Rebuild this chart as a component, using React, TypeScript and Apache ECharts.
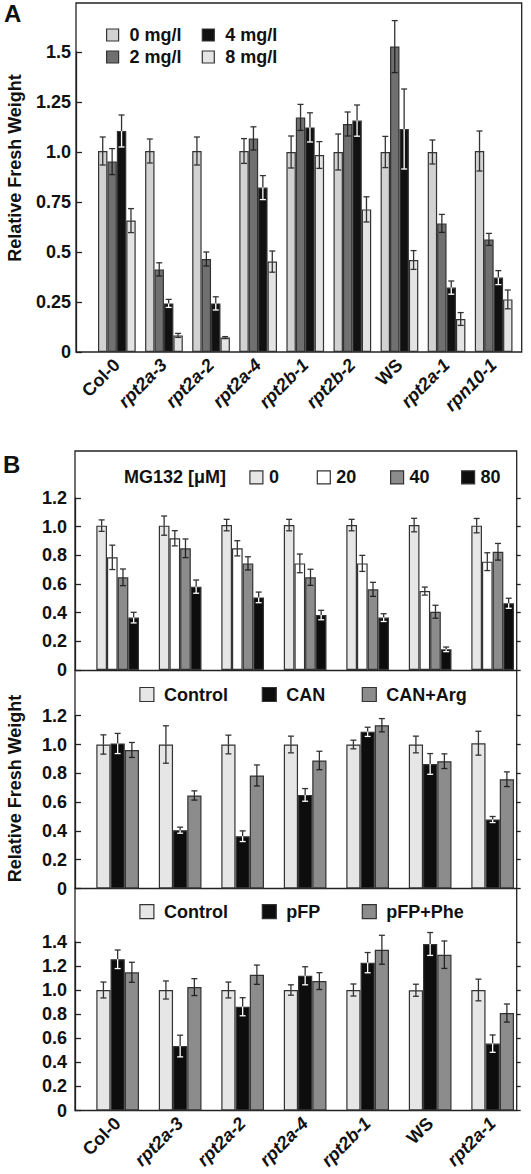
import React, { useEffect, useRef } from "react";
import * as echarts from "echarts";

// ---------- Panel A data ----------
const catsA = ["Col-0", "rpt2a-3", "rpt2a-2", "rpt2a-4", "rpt2b-1", "rpt2b-2", "WS", "rpt2a-1", "rpn10-1"];
const namesA = ["0 mg/l", "2 mg/l", "4 mg/l", "8 mg/l"];
const a0 = [1.005, 1.005, 1.005, 1.005, 1.0, 1.0, 1.0, 1.0, 1.005];
const a0Err = [0.07, 0.06, 0.07, 0.062, 0.08, 0.09, 0.078, 0.06, 0.1];
const a2 = [0.952, 0.413, 0.465, 1.068, 1.173, 1.14, 1.527, 0.643, 0.563];
const a2Err = [0.065, 0.033, 0.035, 0.058, 0.065, 0.06, 0.13, 0.045, 0.03];
const a4 = [1.105, 0.243, 0.243, 0.822, 1.123, 1.157, 1.115, 0.322, 0.372];
const a4Err = [0.08, 0.02, 0.033, 0.06, 0.073, 0.078, 0.2, 0.033, 0.035];
const a8 = [0.657, 0.083, 0.072, 0.452, 0.985, 0.713, 0.46, 0.165, 0.263];
const a8Err = [0.06, 0.01, 0.005, 0.053, 0.067, 0.063, 0.047, 0.032, 0.047];

// ---------- Panel B data ----------
const catsB = ["Col-0", "rpt2a-3", "rpt2a-2", "rpt2a-4", "rpt2b-1", "WS", "rpt2a-1"];
const namesB1 = ["0", "20", "40", "80"];
const mg0 = [1.006, 1.006, 1.01, 1.01, 1.01, 1.01, 1.006];
const mg0Err = [0.04, 0.067, 0.04, 0.04, 0.04, 0.047, 0.05];
const mg20 = [0.785, 0.918, 0.848, 0.743, 0.743, 0.55, 0.755];
const mg20Err = [0.085, 0.053, 0.053, 0.065, 0.056, 0.028, 0.062];
const mg40 = [0.646, 0.848, 0.743, 0.646, 0.562, 0.406, 0.824];
const mg40Err = [0.058, 0.065, 0.046, 0.056, 0.049, 0.045, 0.058];
const mg80 = [0.365, 0.581, 0.506, 0.383, 0.365, 0.144, 0.465];
const mg80Err = [0.037, 0.046, 0.037, 0.033, 0.027, 0.016, 0.035];

const namesB2 = ["Control", "CAN", "CAN+Arg"];
const ctrlCan = [1.0, 1.0, 1.0, 1.0, 1.0, 1.0, 1.009];
const ctrlCanErr = [0.067, 0.13, 0.065, 0.058, 0.03, 0.058, 0.083];
const can = [1.007, 0.405, 0.363, 0.65, 1.088, 0.865, 0.479];
const canErr = [0.07, 0.021, 0.037, 0.044, 0.032, 0.072, 0.021];
const canArg = [0.962, 0.646, 0.785, 0.889, 1.134, 0.884, 0.759];
const canArgErr = [0.052, 0.032, 0.073, 0.064, 0.046, 0.051, 0.051];

const namesB3 = ["Control", "pFP", "pFP+Phe"];
const ctrlPfp = [1.0, 1.0, 1.0, 1.0, 1.0, 0.998, 1.0];
const ctrlPfpErr = [0.066, 0.075, 0.066, 0.043, 0.05, 0.05, 0.09];
const pfp = [1.255, 0.535, 0.861, 1.118, 1.227, 1.382, 0.555];
const pfpErr = [0.077, 0.09, 0.075, 0.075, 0.084, 0.095, 0.072];
const pfpPhe = [1.147, 1.024, 1.127, 1.074, 1.334, 1.293, 0.809];
const pfpPheErr = [0.083, 0.07, 0.08, 0.07, 0.12, 0.114, 0.075];

const FONT = "'Liberation Sans', Arial, Helvetica, sans-serif";
const INK = "#111";
const LINE = "#222";
const BAR_BORDER = "#333";

function buildOption() {
  const grids: any[] = [];
  const xAxes: any[] = [];
  const yAxes: any[] = [];
  const series: any[] = [];
  const legends: any[] = [];
  const graphics: any[] = [];

  const addGrid = (g: any) => {
    grids.push({ containLabel: false, ...g });
    return grids.length - 1;
  };

  const boxGrid = (l: number, t: number, r: number, b: number) => {
    const gi = addGrid({ left: l, top: t, width: r - l, height: b - t, show: true, borderColor: LINE, borderWidth: 1.3, backgroundColor: "transparent" });
    xAxes.push({ gridIndex: gi, type: "value", min: 0, max: 1, show: false });
    yAxes.push({ gridIndex: gi, type: "value", min: 0, max: 1, show: false });
  };

  const tickGrid = (
    l: number, r: number, tickTop: number, zero: number, max: number, interval: number,
    fmt: (v: number) => string, bottomLine: boolean, crossing: boolean
  ) => {
    const gi = addGrid({ left: l, top: tickTop, width: r - l, height: zero - tickTop });
    xAxes.push({
      gridIndex: gi, type: "value", min: 0, max: 1, show: bottomLine,
      axisLine: { show: true, onZero: false, lineStyle: { color: LINE, width: 1.3 } },
      axisTick: { show: false }, axisLabel: { show: false }, splitLine: { show: false },
    });
    yAxes.push({
      gridIndex: gi, type: "value", min: 0, max, interval,
      axisLine: { show: true, lineStyle: { color: LINE, width: 1.3 } },
      axisTick: { show: true, inside: true, length: 6, lineStyle: { color: LINE, width: 1.3 } },
      axisLabel: { formatter: fmt, fontFamily: FONT, fontWeight: "bold", fontSize: 18, color: INK, margin: crossing ? 8 : 5 },
      splitLine: { show: false },
    });
    if (crossing) {
      yAxes.push({
        gridIndex: gi, type: "value", min: 0, max, interval,
        axisLine: { show: false },
        axisTick: { show: true, inside: false, length: 4, lineStyle: { color: LINE, width: 1.3 } },
        axisLabel: { show: false }, splitLine: { show: false },
      });
    }
  };

  const richLabel = {
    rotate: 45, margin: 10, interval: 0,
    formatter: (v: string) => (v === "Col-0" || v === "WS" ? `{n|${v}}` : `{i|${v}}`),
    rich: {
      n: { fontFamily: FONT, fontWeight: "bold", fontSize: 18, color: INK },
      i: { fontFamily: FONT, fontWeight: "bold", fontStyle: "italic", fontSize: 18, color: INK },
    },
  };

  const dataGrid = (
    l: number, w: number, top: number, zero: number, pxPerUnit: number, cats: string[],
    showLabels: boolean, gap: number, names: string[], values: number[][], errs: number[][],
    colors: string[], lowColors: string[]
  ) => {
    const gi = addGrid({ left: l, top, width: w, height: zero - top });
    xAxes.push({
      gridIndex: gi, type: "category", data: cats,
      axisLine: { show: false }, axisTick: { show: false },
      axisLabel: showLabels ? richLabel : { show: false },
    });
    yAxes.push({ gridIndex: gi, type: "value", min: 0, max: (zero - top) / pxPerUnit, show: false });
    const xi = xAxes.length - 1;
    const yi = yAxes.length - 1;
    const n = names.length;
    names.forEach((name, k) => {
      series.push({
        type: "bar", name, xAxisIndex: xi, yAxisIndex: yi, data: values[k],
        barGap: "0%", barCategoryGap: `${gap * 100}%`, z: 2,
        itemStyle: { color: colors[k], borderColor: BAR_BORDER, borderWidth: 1.2 },
      });
      const low = lowColors[k];
      series.push({
        type: "custom", name: `${name} error`, xAxisIndex: xi, yAxisIndex: yi, z: 3, silent: true,
        data: values[k].map((v, i) => [i, v, errs[k][i]]),
        encode: { x: 0, y: 1 },
        renderItem: (_p: any, api: any) => {
          const ci = api.value(0);
          const v = api.value(1);
          const e = api.value(2);
          const c = api.coord([ci, v]);
          const band = api.size([1, 0])[0];
          const groupW = band * (1 - gap);
          const bw = groupW / n;
          const x = c[0] - groupW / 2 + (k + 0.5) * bw;
          const y = c[1];
          const yTop = api.coord([ci, v + e])[1];
          const yBot = api.coord([ci, v - e])[1];
          const cw = 3;
          const up = { stroke: "#333", lineWidth: 1.3 };
          const dn = { stroke: low, lineWidth: 1.3 };
          return {
            type: "group",
            children: [
              { type: "line", shape: { x1: x, y1: yTop, x2: x, y2: y }, style: up },
              { type: "line", shape: { x1: x - cw, y1: yTop, x2: x + cw, y2: yTop }, style: up },
              { type: "line", shape: { x1: x, y1: y, x2: x, y2: yBot }, style: dn },
              { type: "line", shape: { x1: x - cw, y1: yBot, x2: x + cw, y2: yBot }, style: dn },
            ],
          };
        },
      });
    });
  };

  const legendItem = (name: string, left: number, cy: number, size: number, textGap: number) => {
    legends.push({
      data: [name], left, top: cy - 9, padding: 0, icon: "rect",
      itemWidth: size, itemHeight: size, selectedMode: false,
      itemStyle: { borderColor: BAR_BORDER, borderWidth: 1.2 },
      textStyle: { fontFamily: FONT, fontWeight: "bold", fontSize: 18, color: INK, padding: [0, 0, 0, textGap] },
    });
  };

  const fmtA = (v: number) => {
    if (v === 0) return "0";
    return Math.abs(v * 2 - Math.round(v * 2)) < 1e-6 ? v.toFixed(1) : v.toFixed(2);
  };
  const fmtB = (v: number) => (v === 0 ? "0" : v.toFixed(1));

  // ---------- Panel A ----------
  const aL = 76, aR = 521.7, aT = 3, aZero = 352, aPx = 200;
  boxGrid(aL, aT, aR, aZero);
  tickGrid(aL, aR, aZero - 1.5 * aPx, aZero, 1.5, 0.25, fmtA, false, false);
  dataGrid(
    93.3, 423.9, aT, aZero, aPx, catsA, true, 0.2, namesA,
    [a0, a2, a4, a8], [a0Err, a2Err, a4Err, a8Err],
    ["#d2d2d2", "#707070", "#111111", "#e4e4e4"],
    ["#333", "#222", "#ffffff", "#333"]
  );
  legendItem(namesA[0], 106, 35, 12, 6);
  legendItem(namesA[1], 106, 57, 12, 6);
  legendItem(namesA[2], 201.7, 35, 12, 6);
  legendItem(namesA[3], 201.7, 57, 12, 6);

  // ---------- Panel B ----------
  const bL = 75, bR = 516.7, bT = 451, bBottom = 1110.5;
  boxGrid(bL, bT, bR, bBottom);
  const dL = 86.4, dW = 437.5, gapB = 0.317;

  // sub 1
  const s1Top = 451, s1Zero = 670, s1Px = 143.5;
  tickGrid(bL, bR, s1Zero - 1.2 * s1Px, s1Zero, 1.2, 0.2, fmtB, true, true);
  dataGrid(
    dL, dW, s1Top, s1Zero, s1Px, catsB, false, gapB, namesB1,
    [mg0, mg20, mg40, mg80], [mg0Err, mg20Err, mg40Err, mg80Err],
    ["#e6e6e6", "#ffffff", "#8c8c8c", "#0d0d0d"],
    ["#333", "#333", "#222", "#ffffff"]
  );
  legendItem(namesB1[0], 249.3, 477.3, 13, 1);
  legendItem(namesB1[1], 316.7, 477.3, 13, 1);
  legendItem(namesB1[2], 390, 477.3, 13, 1);
  legendItem(namesB1[3], 461, 477.3, 13, 1);

  // sub 2
  const s2Top = 670, s2Zero = 888.5, s2Px = 144;
  tickGrid(bL, bR, s2Zero - 1.2 * s2Px, s2Zero, 1.2, 0.2, fmtB, true, true);
  dataGrid(
    dL, dW, s2Top, s2Zero, s2Px, catsB, false, gapB, namesB2,
    [ctrlCan, can, canArg], [ctrlCanErr, canErr, canArgErr],
    ["#e6e6e6", "#0d0d0d", "#8c8c8c"],
    ["#333", "#ffffff", "#222"]
  );
  legendItem(namesB2[0], 139.3, 694.5, 14, 5);
  legendItem(namesB2[1], 261.7, 694.5, 14, 5);
  legendItem(namesB2[2], 361.7, 694.5, 14, 5);

  // sub 3
  const s3Top = 888.5, s3Zero = 1110.5, s3Px = 120.5;
  tickGrid(bL, bR, s3Zero - 1.4 * s3Px, s3Zero, 1.4, 0.2, fmtB, false, true);
  dataGrid(
    dL, dW, s3Top, s3Zero, s3Px, catsB, true, gapB, namesB3,
    [ctrlPfp, pfp, pfpPhe], [ctrlPfpErr, pfpErr, pfpPheErr],
    ["#e6e6e6", "#0d0d0d", "#8c8c8c"],
    ["#333", "#ffffff", "#222"]
  );
  legendItem(namesB3[0] + "", 139.3, 911.7, 14, 5);
  legendItem(namesB3[1], 261.7, 911.7, 14, 5);
  legendItem(namesB3[2], 361.7, 911.7, 14, 5);

  // ---------- texts ----------
  const txt = (text: string, x: number, y: number, size: number, opts: any = {}) => ({
    type: "text", x, y, rotation: opts.rotation || 0, z: 10,
    style: {
      text, fill: INK, font: `bold ${size}px ${FONT}`,
      align: opts.align || "left", verticalAlign: opts.verticalAlign || "top",
    },
  });
  graphics.push(txt("A", 4, 1.5, 24));
  graphics.push(txt("B", 3, 452, 24));
  graphics.push(txt("Relative Fresh Weight", 15, 168, 18, { rotation: Math.PI / 2, align: "center", verticalAlign: "middle" }));
  graphics.push(txt("Relative Fresh Weight", 15, 788.5, 18, { rotation: Math.PI / 2, align: "center", verticalAlign: "middle" }));
  graphics.push(txt("MG132 [\u03bcM]", 124, 477.3, 18, { verticalAlign: "middle" }));

  return {
    animation: false,
    backgroundColor: "#ffffff",
    textStyle: { fontFamily: FONT },
    grid: grids,
    xAxis: xAxes,
    yAxis: yAxes,
    legend: legends,
    series,
    graphic: { elements: graphics },
  };
}

export default function App() {
  const ref = useRef<HTMLDivElement>(null);
  useEffect(() => {
    document.body.style.margin = "0";
    if (!ref.current) return;
    const chart = echarts.init(ref.current, undefined, { renderer: "svg" });
    chart.setOption(buildOption() as any);
    return () => chart.dispose();
  }, []);
  return (
    <div
      ref={ref}
      style={{ position: "absolute", left: 0, top: 0, width: 531, height: 1174, background: "#fff" }}
    />
  );
}
